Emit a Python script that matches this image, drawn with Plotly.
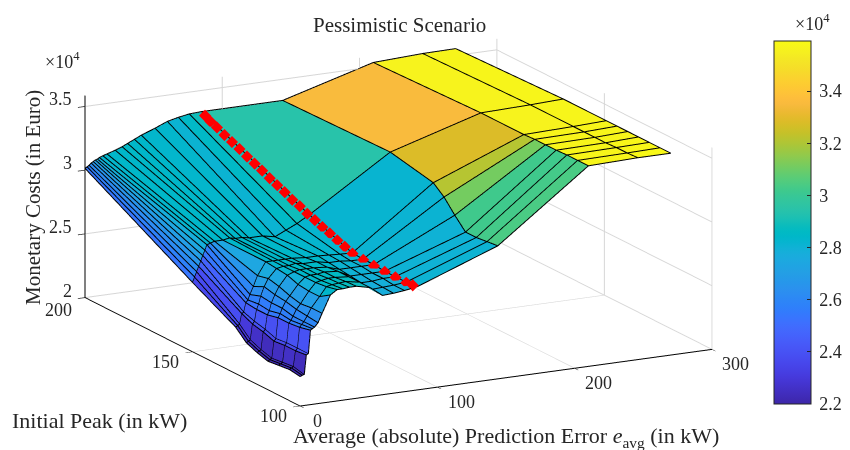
import plotly.graph_objects as go

# ---- data (z in units of 1e4 Euro) ----
error_kw = [0, 1.5, 3, 4.5, 6, 7.5, 9, 10.5, 13, 16, 22, 27, 31, 36, 41, 51, 60, 68, 76, 85, 144, 210, 246, 270]
peak_kw = [100, 105, 110, 115, 120, 125, 130, 150, 200]
cost_100 = [2.227, 2.235, 2.24, 2.39, 2.40, 2.58, 2.59, 2.60, 2.63, 2.70, 2.835, 2.87, 2.87, 2.875, 2.875, 2.85, 2.775, 2.78, 2.79, 2.805, 3.04, 3.57, 3.58, 3.58]
cost_105 = [2.24, 2.25, 2.26, 2.38, 2.40, 2.56, 2.58, 2.60, 2.64, 2.70, 2.78, 2.85, 2.86, 2.865, 2.87, 2.85, 2.78, 2.785, 2.79, 2.80, 3.03, 3.57, 3.575, 3.58]
cost_110 = [2.23, 2.24, 2.25, 2.38, 2.40, 2.55, 2.57, 2.60, 2.65, 2.69, 2.78, 2.84, 2.85, 2.86, 2.86, 2.85, 2.79, 2.79, 2.80, 2.80, 3.02, 3.57, 3.575, 3.58]
cost_115 = [2.22, 2.23, 2.24, 2.37, 2.39, 2.55, 2.58, 2.62, 2.67, 2.71, 2.79, 2.84, 2.85, 2.85, 2.86, 2.85, 2.80, 2.80, 2.80, 2.80, 3.02, 3.565, 3.57, 3.58]
cost_120 = [2.245, 2.255, 2.265, 2.40, 2.42, 2.53, 2.56, 2.62, 2.68, 2.74, 2.82, 2.84, 2.85, 2.85, 2.85, 2.84, 2.81, 2.81, 2.81, 2.81, 3.11, 3.565, 3.57, 3.58]
cost_125 = [2.28, 2.29, 2.30, 2.42, 2.44, 2.53, 2.57, 2.63, 2.70, 2.76, 2.83, 2.84, 2.84, 2.85, 2.84, 2.84, 2.82, 2.82, 2.81, 2.81, 3.21, 3.565, 3.57, 3.58]
cost_130 = [2.36, 2.37, 2.38, 2.46, 2.47, 2.54, 2.56, 2.60, 2.66, 2.74, 2.84, 2.84, 2.84, 2.84, 2.84, 2.83, 2.83, 2.825, 2.82, 2.816, 3.28, 3.56, 3.57, 3.58]
cost_150 = [2.54, 2.58, 2.62, 2.66, 2.70, 2.74, 2.78, 2.82, 2.83, 2.84, 2.84, 2.85, 2.84, 2.84, 2.83, 2.83, 2.81, 2.85, 2.89, 2.945, 3.35, 3.56, 3.57, 3.58]
cost_200 = [3.01, 3.02, 3.03, 3.045, 3.055, 3.065, 3.07, 3.08, 3.09, 3.10, 3.12, 3.14, 3.16, 3.185, 3.21, 3.25, 3.29, 3.31, 3.325, 3.33, 3.33, 3.53, 3.547, 3.55]
cost = [cost_100, cost_105, cost_110, cost_115, cost_120, cost_125, cost_130, cost_150, cost_200]

red_x = [85] * 27
red_y = [100, 105, 110, 115, 120, 125, 130, 133.5, 137, 140.5, 144, 147.5, 151, 154.5, 158, 161.5, 165, 168.5, 172, 175.5, 179, 182.5, 186, 189.5, 193, 196, 198.5]
red_z = [2.805, 2.80, 2.80, 2.80, 2.805, 2.81, 2.816, 2.84, 2.86, 2.885, 2.905, 2.93, 2.95, 2.98, 3.0, 3.03, 3.055, 3.08, 3.11, 3.135, 3.16, 3.19, 3.215, 3.24, 3.27, 3.29, 3.315]

x_ticks = [0, 100, 200, 300]
y_ticks = [100, 150, 200]
z_ticks = [2, 2.5, 3, 3.5]
cbar_ticks = [2.2, 2.4, 2.6, 2.8, 3, 3.2, 3.4]

parula = [
 (.2422,.1504,.6603),(.2504,.1650,.7076),(.2578,.1818,.7511),(.2647,.1978,.7952),(.2706,.2147,.8364),(.2751,.2342,.8710),(.2783,.2559,.8991),(.2803,.2782,.9221),
 (.2813,.3006,.9414),(.2810,.3228,.9579),(.2795,.3447,.9717),(.2760,.3667,.9829),(.2699,.3892,.9906),(.2602,.4123,.9952),(.2440,.4358,.9988),(.2206,.4603,.9973),
 (.1963,.4847,.9892),(.1834,.5074,.9798),(.1786,.5289,.9682),(.1764,.5499,.9520),(.1687,.5703,.9359),(.1540,.5902,.9218),(.1460,.6091,.9079),(.1380,.6276,.8973),
 (.1248,.6459,.8883),(.1113,.6635,.8763),(.0952,.6798,.8598),(.0689,.6948,.8394),(.0297,.7082,.8163),(.0036,.7203,.7917),(.0067,.7312,.7660),(.0433,.7411,.7394),
 (.0964,.7500,.7120),(.1408,.7584,.6842),(.1717,.7670,.6554),(.1938,.7758,.6251),(.2161,.7843,.5923),(.2470,.7918,.5567),(.2906,.7973,.5188),(.3406,.8008,.4789),
 (.3909,.8029,.4354),(.4456,.8024,.3909),(.5044,.7993,.3480),(.5616,.7942,.3045),(.6174,.7876,.2612),(.6720,.7793,.2227),(.7242,.7698,.1910),(.7738,.7598,.1646),
 (.8203,.7498,.1535),(.8634,.7406,.1596),(.9035,.7330,.1774),(.9393,.7288,.2100),(.9728,.7298,.2394),(.9956,.7434,.2371),(.9970,.7659,.2199),(.9952,.7893,.2028),
 (.9892,.8136,.1885),(.9786,.8386,.1766),(.9676,.8639,.1643),(.9610,.8890,.1537),(.9597,.9135,.1423),(.9628,.9373,.1265),(.9691,.9606,.1064),(.9769,.9839,.0805)]
scale = [[i / 63, "rgb(%d,%d,%d)" % (r * 255, g * 255, b * 255)] for i, (r, g, b) in enumerate(parula)]

nx, ny = len(error_kw), len(peak_kw)
vx, vy, vz, ti, tj, tk, cell = [], [], [], [], [], [], []
for iy in range(ny):
    for ix in range(nx):
        vx.append(error_kw[ix]); vy.append(peak_kw[iy]); vz.append(cost[iy][ix])
for iy in range(ny - 1):
    for ix in range(nx - 1):
        a = iy * nx + ix; b = a + 1; c = a + nx; d = c + 1
        ti += [a, a]; tj += [b, d]; tk += [d, c]
        cell += [cost[iy][ix], cost[iy][ix]]

SERIF = "Liberation Serif"
INK = "#262626"
W, H = 842, 442  # the page body adds an 8 px margin at top and left
lift = 0.004
ex, ey, ez = [], [], []
for iy in range(ny):
    ex += error_kw + [None]; ey += [peak_kw[iy]] * nx + [None]; ez += [v + lift for v in cost[iy]] + [None]
for ix in range(nx):
    ex += [error_kw[ix]] * ny + [None]; ey += peak_kw + [None]; ez += [cost[iy][ix] + lift for iy in range(ny)] + [None]

# markers are nudged along the view direction so the sloped surface does not cut them; the screen position is unchanged
toward = 0.05
mark_x = [v - toward * 0.4465 * 300 / 2.166 for v in red_x]
mark_y = [max(100, v - toward * 0.8555 * 100 / 2.166) for v in red_y]
mark_z = [v + toward * 0.2628 * 1.585 / 0.976 for v in red_z]

fig = go.Figure()
fig.add_trace(go.Mesh3d(
    x=vx, y=vy, z=vz, i=ti, j=tj, k=tk, intensity=cell, intensitymode="cell",
    colorscale=scale, cmin=2.2, cmax=3.592, flatshading=True,
    lighting=dict(ambient=1, diffuse=0, specular=0, roughness=1, fresnel=0),
    hoverinfo="skip",
    colorbar=dict(x=(774 - 8) / W, xanchor="left", xpad=0, ypad=0, y=1 - (41 - 8) / H, yanchor="top",
                  lenmode="pixels", len=363, thicknessmode="pixels", thickness=37,
                  tickvals=cbar_ticks, ticktext=["\u2009" + str(v) for v in cbar_ticks],
                  ticks="inside", ticklen=4, tickcolor=INK, outlinecolor=INK, outlinewidth=1,
                  tickfont=dict(family=SERIF, size=18, color=INK))))
fig.add_trace(go.Scatter3d(x=ex, y=ey, z=ez, mode="lines", line=dict(color="black", width=2), hoverinfo="skip", showlegend=False))
fig.add_trace(go.Scatter3d(x=mark_x, y=mark_y, z=mark_z, mode="markers",
                           marker=dict(color="red", size=4, symbol="diamond"), hoverinfo="skip", showlegend=False))

def axis(rng, vals):
    return dict(range=rng, tickvals=vals, showticklabels=False, title=dict(text=""), showbackground=False, showgrid=True,
                gridcolor="#d6d6d6", gridwidth=2, zeroline=False, showline=True, linecolor="black", linewidth=2,
                ticks="outside", ticklen=8, tickwidth=1.5, tickcolor=INK, showspikes=False)

def note(px, py, text, size=21, angle=0, xanchor="center"):
    return dict(x=(px - 8) / W, y=1 - (py - 8) / H, xref="paper", yref="paper", text=text, showarrow=False, textangle=angle,
                xanchor=xanchor, yanchor="middle", font=dict(family=SERIF, size=size, color=INK))

def tick(x, y, z, text, dx, dy, xanchor="center"):
    return dict(x=x, y=y, z=z, text=text, showarrow=False, xanchor=xanchor, yanchor="middle", xshift=dx, yshift=-dy,
                font=dict(family=SERIF, size=18, color=INK))

scene_notes = [tick(v, 100, 2, str(v), 24 if v else 17, 15) for v in x_ticks]
scene_notes += [tick(0, v, 2, str(v), -27, 12 if v == 200 else 10) for v in y_ticks]
scene_notes += [tick(0, 200, v, str(v), -11, -7, "right") for v in z_ticks]

fig.update_layout(
    width=W, height=H, margin=dict(l=0, r=0, t=0, b=0), paper_bgcolor="white", showlegend=False,
    scene=dict(
        domain=dict(x=[0, 781 / W], y=[1 - 429 / H, 1]),
        aspectmode="manual", aspectratio=dict(x=2.166, y=2.166, z=0.976),
        xaxis=axis([0, 300], x_ticks),
        yaxis=axis([100, 200], y_ticks),
        zaxis=axis([2, 3.585], z_ticks),
        annotations=scene_notes,
        camera=dict(projection=dict(type="orthographic"), up=dict(x=0, y=0, z=1), center=dict(x=0, y=0, z=0),
                    eye=dict(x=-2.68, y=-5.13, z=1.58)),
    ),
    annotations=[
        note(399, 25, "Pessimistic Scenario"),
        note(33, 198, "Monetary Costs (in Euro)", angle=-90),
        note(99, 420, "Initial Peak (in kW)", 22),
        note(506, 437, "Average (absolute) Prediction Error <i>e</i><sub>avg</sub> (in kW)", 22),
        note(63, 60, "×10<sup>4</sup>", 18),
        note(812, 23, "×10<sup>4</sup>", 18),
    ],
)
fig.write_html("out.html")
